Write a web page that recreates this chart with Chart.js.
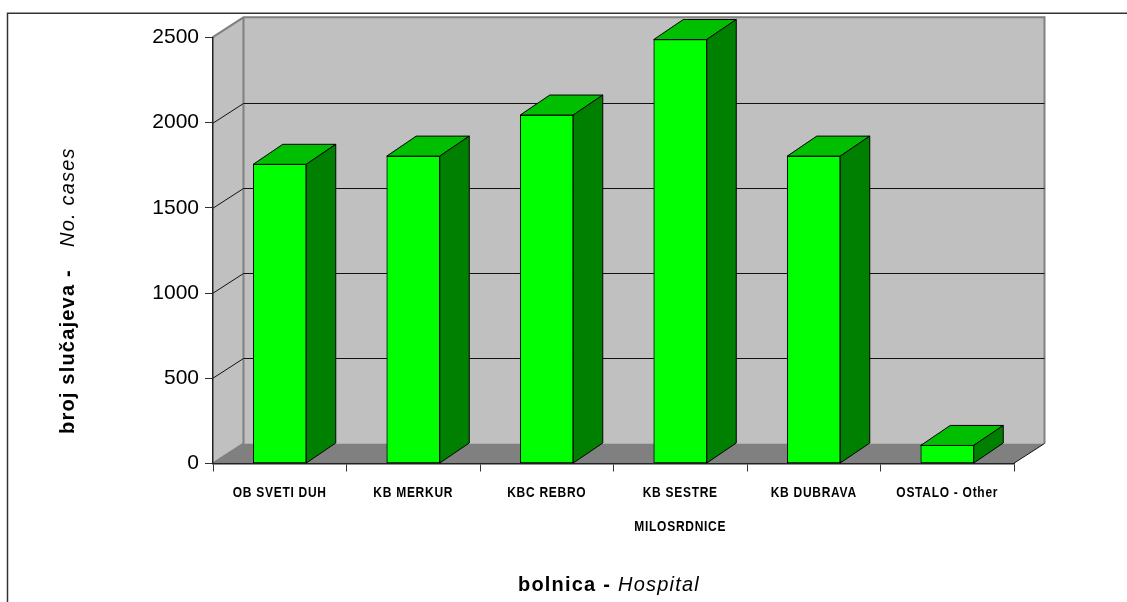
<!DOCTYPE html>
<html><head><meta charset="utf-8">
<style>html,body{margin:0;padding:0;background:#fff;overflow:hidden}canvas{display:block}</style>
<script src="https://cdn.jsdelivr.net/npm/chart.js@4"></script></head>
<body><canvas id="c" width="1127" height="602"></canvas>
<script>
const categories = [["OB SVETI DUH"],["KB MERKUR"],["KBC REBRO"],["KB SESTRE","MILOSRDNICE"],["KB DUBRAVA"],["OSTALO - Other"]];
const cases = [1755,1803,2044,2487,1803,106];
const yTicks = [0,500,1000,1500,2000,2500];
const yTitleBold = "broj slučajeva -";
const yTitleItalic = "No. cases";
const xTitleBold = "bolnica -";
const xTitleItalic = "Hospital";

const wallDx = 31, wallDy = -20, barDx = 29.5, barDy = -20;

function poly(ctx, pts, fill, stroke, lw){
  ctx.beginPath();
  pts.forEach((p,i)=> i? ctx.lineTo(p[0],p[1]) : ctx.moveTo(p[0],p[1]));
  ctx.closePath();
  if(fill){ctx.fillStyle=fill;ctx.fill();}
  if(stroke){ctx.strokeStyle=stroke;ctx.lineWidth=lw||1;ctx.stroke();}
}
const threeD = {
  id:'threeD',
  beforeDraw(chart){
    const {ctx,scales:{x,y}} = chart;
    const L=212.5, R=x.right-0.5, T=y.getPixelForValue(2500), B=y.getPixelForValue(0);
    ctx.save();
    ctx.fillStyle='#fff';ctx.fillRect(0,0,chart.width,chart.height);
    ctx.strokeStyle='#333';ctx.lineWidth=1.5;
    ctx.beginPath();ctx.moveTo(7.5,602);ctx.lineTo(7.5,13.2);ctx.lineTo(1127,13.2);ctx.stroke();
    poly(ctx,[[L+wallDx,T+wallDy],[R+wallDx,T+wallDy],[R+wallDx,B+wallDy],[L+wallDx,B+wallDy]],'#c0c0c0');
    poly(ctx,[[L,T],[L+wallDx,T+wallDy],[L+wallDx,B+wallDy],[L,B]],'#c0c0c0');
    poly(ctx,[[L,B],[L+wallDx,B+wallDy],[R+wallDx,B+wallDy],[R,B]],'#808080');
    ctx.strokeStyle='#808080';ctx.lineWidth=2;
    ctx.beginPath();
    ctx.moveTo(L,T);ctx.lineTo(L+wallDx,T+wallDy);ctx.lineTo(R+wallDx,T+wallDy);ctx.lineTo(R+wallDx,B+wallDy);
    ctx.moveTo(L+wallDx,T+wallDy);ctx.lineTo(L+wallDx,B+wallDy);ctx.lineTo(L,B);
    ctx.stroke();
    ctx.strokeStyle='#111';ctx.lineWidth=1;
    yTicks.slice(1,-1).forEach(v=>{
      const py=Math.round(y.getPixelForValue(v))+0.5;
      ctx.beginPath();ctx.moveTo(L,py);ctx.lineTo(L+wallDx,py+wallDy);ctx.lineTo(R+wallDx,py+wallDy);ctx.stroke();
    });
    ctx.beginPath();ctx.moveTo(R,B);ctx.lineTo(R+wallDx,B+wallDy);ctx.stroke();
    ctx.restore();
  },
  afterDatasetsDraw(chart){
    const {ctx} = chart;
    ctx.save();
    ctx.lineJoin='round';
    chart.getDatasetMeta(0).data.forEach(b=>{
      const l=b.x-b.width/2, r=b.x+b.width/2, t=b.y, bt=b.base;
      poly(ctx,[[l,t],[l+barDx,t+barDy],[r+barDx,t+barDy],[r,t]],'#00bf00','#000',1);
      poly(ctx,[[r,t],[r+barDx,t+barDy],[r+barDx,bt+barDy],[r,bt]],'#008000','#000',1);
    });
    ctx.restore();
  },
  afterDraw(chart){
    const {ctx,scales:{x}} = chart;
    ctx.save();
    ctx.fillStyle='#000';ctx.textBaseline='alphabetic';ctx.textAlign='left';
    categories.forEach((lines,i)=>{
      const cx=x.getPixelForValue(i);
      lines.forEach((s,j)=>{
        ctx.save();
        ctx.translate(cx,497+j*33.6);
        ctx.scale(0.8,1);
        ctx.textAlign='center';
        ctx.letterSpacing='0.9px';
        ctx.font='bold 15px "Liberation Sans"';
        ctx.fillText(s,0,0);
        ctx.restore();
      });
    });
    ctx.save();
    ctx.translate(73.5,434);ctx.rotate(-Math.PI/2);
    ctx.letterSpacing='1.2px';
    ctx.font='bold 20px "Liberation Sans"';ctx.fillText(yTitleBold,0,0);
    ctx.font='italic 20px "Liberation Sans"';ctx.fillText(yTitleItalic,187,0);
    ctx.restore();
    ctx.letterSpacing='1.2px';
    ctx.font='bold 20px "Liberation Sans"';
    ctx.fillText(xTitleBold,518,591);
    ctx.font='italic 20px "Liberation Sans"';
    ctx.fillText(xTitleItalic,618,591);
    ctx.restore();
  }
};
new Chart(document.getElementById('c'),{
  type:'bar',
  data:{labels:categories,datasets:[{data:cases,backgroundColor:'#00ff00',borderColor:'#000',borderWidth:1,barThickness:53,borderSkipped:false}]},
  options:{
    responsive:false,animation:false,
    layout:{padding:{top:37.3,right:113,left:0,bottom:0}},
    plugins:{legend:{display:false},title:{display:false},tooltip:{enabled:false}},
    scales:{
      x:{
        offset:true,
        afterFit(s){s.height=602-463.5;},
        grid:{display:true,drawOnChartArea:false,drawTicks:true,tickLength:8,color:'#333',offset:true},
        border:{display:true,color:'#222',width:1.5},
        ticks:{display:false,autoSkip:false,maxRotation:0,minRotation:0}
      },
      y:{
        min:0,max:2500,
        afterFit(s){s.width=213;},
        afterBuildTicks(s){s.ticks=yTicks.map(v=>({value:v}));},
        grid:{display:true,drawOnChartArea:false,drawTicks:true,tickLength:8,color:'#333'},
        border:{display:true,color:'#222',width:1.5},
        ticks:{color:'#000',padding:6,callback:v=>String(v),font:{family:'"Liberation Sans"',size:21}}
      }
    }
  },
  plugins:[threeD]
});
</script></body></html>
